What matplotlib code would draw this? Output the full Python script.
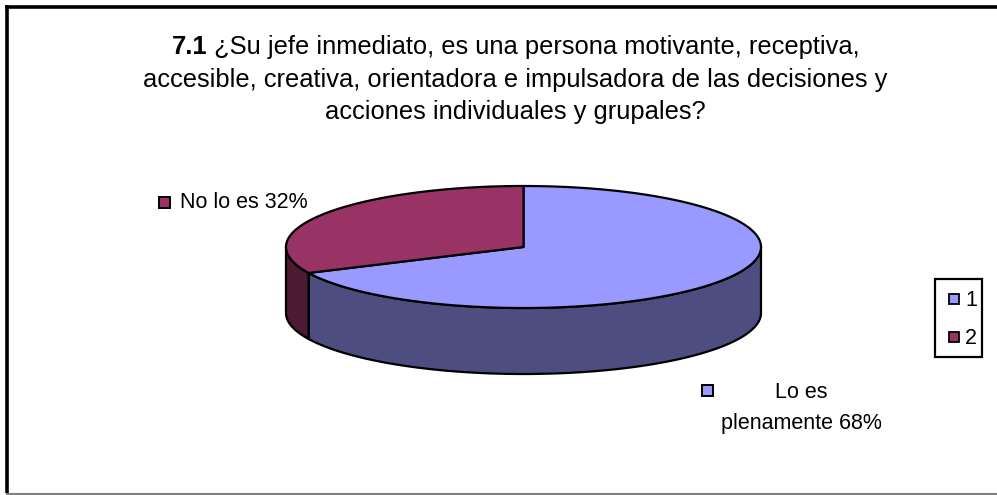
import numpy as np
import matplotlib
matplotlib.use('Agg')
import matplotlib.pyplot as plt
from matplotlib.patches import Polygon, Rectangle

plt.rcParams['font.family'] = ['Liberation Sans', 'DejaVu Sans']

# data
categories = ['Lo es plenamente', 'No lo es']
values = [68, 32]
legend_labels = ['1', '2']
top_colors = ['#9999FF', '#993366']
side_colors = ['#4D4D80', '#4D1A33']
title_num = '7.1'
title_lines = ['¿Su jefe inmediato, es una persona motivante, receptiva,',
               'accesible, creativa, orientadora e impulsadora de las decisiones y',
               'acciones individuales y grupales?']

W, H = 997, 495
fig = plt.figure(figsize=(W / 100, H / 100), dpi=100)
ax = fig.add_axes([0, 0, 1, 1])
ax.set_xlim(0, W)
ax.set_ylim(H, 0)
ax.axis('off')

# chart frame (right side is cut off in the original)
ax.plot([5, W], [6.5, 6.5], color='black', lw=2.6, solid_capstyle='butt')
ax.plot([6.5, 6.5], [5, 493], color='black', lw=2.6, solid_capstyle='butt')
ax.plot([6, W], [493.5, 493.5], color='#808080', lw=1.5, solid_capstyle='butt')

# title: bold number + normal text on first line
fs = 18.4
tx = 515.5
t1 = ax.text(0, 47, title_num, fontsize=fs, fontweight='bold', va='center')
t2 = ax.text(0, 47, ' ' + title_lines[0], fontsize=fs, va='center')
fig.canvas.draw()
r = fig.canvas.get_renderer()
w1 = t1.get_window_extent(r).width
w2 = t2.get_window_extent(r).width
x0 = tx - (w1 + w2) / 2
t1.set_x(x0)
t2.set_x(x0 + w1)
ax.text(tx, 80, title_lines[1], fontsize=fs, ha='center', va='center')
ax.text(tx, 112, title_lines[2], fontsize=fs, ha='center', va='center')

# 3D pie geometry
cx, cy, a, b, depth = 523.5, 247, 237.5, 61, 66


def ell(t, dy=0.0):
    return np.column_stack([cx + a * np.cos(np.radians(t)), cy - b * np.sin(np.radians(t)) + dy])


fracs = np.array(values, dtype=float) / sum(values)
# first slice runs clockwise from 12 o'clock, second fills the rest
starts, ends = [], []
ang = 90.0
for f in fracs[::-1]:
    starts.append(ang)
    ang += 360 * f
    ends.append(ang)
starts = starts[::-1]
ends = ends[::-1]

# side walls (only the front half, 180..360 degrees, is visible)
for i in range(len(values)):
    for off in (0, 360, -360):
        s = max(starts[i] + off, 180)
        e = min(ends[i] + off, 360)
        if e > s:
            t = np.linspace(s, e, 200)
            pts = np.vstack([ell(t), ell(t[::-1], depth)])
            ax.add_patch(Polygon(pts, closed=True, facecolor=side_colors[i],
                                 edgecolor='black', lw=1.6, joinstyle='round'))

# top faces
for i in range(len(values)):
    t = np.linspace(starts[i], ends[i], 300)
    pts = np.vstack([[cx, cy], ell(t)])
    ax.add_patch(Polygon(pts, closed=True, facecolor=top_colors[i],
                         edgecolor='black', lw=1.6, joinstyle='round'))

# data labels with legend key
lfs = 15.5
ax.add_patch(Rectangle((159, 197), 11, 11, facecolor=top_colors[1], edgecolor='black', lw=1.4))
ax.text(180, 203, f'{categories[1]} {values[1]}%', fontsize=lfs, va='center', ha='left')

ax.add_patch(Rectangle((702, 385), 11, 11, facecolor=top_colors[0], edgecolor='black', lw=1.4))
words = categories[0].split(' ')
ax.text(801, 392, ' '.join(words[:2]), fontsize=lfs, va='center', ha='center')
ax.text(801, 423, f'{words[2]} {values[0]}%', fontsize=lfs, va='center', ha='center')

# legend box
ax.add_patch(Rectangle((935, 279), 47, 78, facecolor='white', edgecolor='black', lw=1.6))
for k, (lab, c) in enumerate(zip(legend_labels, top_colors)):
    yy = 299 + k * 38
    ax.add_patch(Rectangle((949, yy - 5), 10, 10, facecolor=c, edgecolor='black', lw=1.3))
    ax.text(965, yy + 1, lab, fontsize=lfs, va='center', ha='left')

fig.savefig('out.png', dpi=100)
